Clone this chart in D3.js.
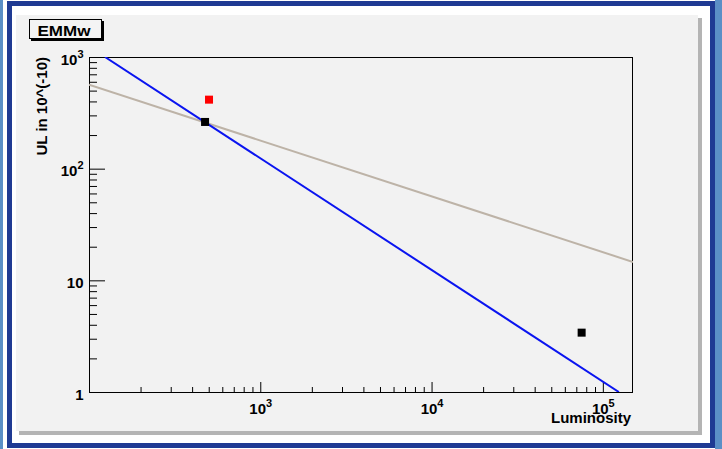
<!DOCTYPE html>
<html>
<head>
<meta charset="utf-8">
<script src="https://cdn.jsdelivr.net/npm/d3@7"></script>
<style>
  html, body { margin: 0; padding: 0; background: #ffffff; }
  svg { display: block; }
  text { font-family: "Liberation Sans", Arial, Helvetica, sans-serif; font-weight: bold; }
</style>
</head>
<body>
<svg id="chart" width="722" height="449"></svg>
<script>
// ---- data ----
const titleText = "EMMw";
const xTitle = "Luminosity";
const yTitle = "UL in 10^(-10)";
const xDomain = [100, 150000];
const yDomain = [1, 1000];
const xMajorTicks = [1000, 10000, 100000];
const xMajorExp = ["3", "4", "5"];
const xMinorTicks = [200, 300, 400, 500, 600, 700, 800, 900,
                     2000, 3000, 4000, 5000, 6000, 7000, 8000, 9000,
                     20000, 30000, 40000, 50000, 60000, 70000, 80000, 90000];
const yMajorTicks = [1, 10, 100, 1000];
const yMajorBase = ["1", "10", "10", "10"];
const yMajorExp = ["", "", "2", "3"];
const yMinorTicks = [2, 3, 4, 5, 6, 7, 8, 9,
                     20, 30, 40, 50, 60, 70, 80, 90,
                     200, 300, 400, 500, 600, 700, 800, 900];
const blackX = [476, 75200];
const blackY = [262, 3.4];
const redX = [502];
const redY = [415];
const blueLineX = [124, 124000];
const blueLineY = [1000, 1];
const greyLineX = [100, 150000];
const greyLineY = [565, 14.6];

// ---- drawing ----
const svg = d3.select("#chart");

// outer window decorations
svg.append("rect").attr("x", 0).attr("y", 0).attr("width", 3).attr("height", 449).attr("fill", "#5b8fc6");
svg.append("rect").attr("x", 715).attr("y", 0).attr("width", 7).attr("height", 449).attr("fill", "#5b8fc6");
svg.append("rect").attr("x", 9.5).attr("y", 3.5).attr("width", 703).attr("height", 442)
  .attr("fill", "#ffffff").attr("stroke", "#1f3a93").attr("stroke-width", 5);

// pad with shadow
svg.append("rect").attr("x", 19).attr("y", 18).attr("width", 683).attr("height", 417).attr("fill", "#b4b4b4");
svg.append("rect").attr("x", 16).attr("y", 15).attr("width", 682).attr("height", 416).attr("fill", "#f2f2f2");

const L = 89, R = 633, T = 57, B = 392;
const x = d3.scaleLog().domain(xDomain).range([L, R]);
const y = d3.scaleLog().domain(yDomain).range([B, T]);

// clip
svg.append("defs").append("clipPath").attr("id", "frameClip")
  .append("rect").attr("x", L).attr("y", T).attr("width", R - L).attr("height", B - T);

// axes ticks
function styleAxis(g) {
  g.select(".domain").remove();
  g.selectAll(".tick line").attr("stroke", "#000").attr("stroke-width", 1);
}
svg.append("g").attr("transform", `translate(0,${B})`)
  .call(d3.axisBottom(x).tickValues(xMinorTicks).tickSize(-5).tickSizeOuter(0).tickFormat(""))
  .call(styleAxis);
const xMaj = svg.append("g").attr("transform", `translate(0,${B})`)
  .call(d3.axisBottom(x).tickValues(xMajorTicks).tickSize(-10).tickSizeOuter(0).tickFormat(""))
  .call(styleAxis);
svg.append("g").attr("transform", `translate(${L},0)`)
  .call(d3.axisLeft(y).tickValues(yMinorTicks).tickSize(-8).tickSizeOuter(0).tickFormat(""))
  .call(styleAxis);
const yMaj = svg.append("g").attr("transform", `translate(${L},0)`)
  .call(d3.axisLeft(y).tickValues(yMajorTicks).tickSize(-16).tickSizeOuter(0).tickFormat(""))
  .call(styleAxis);

// x tick labels
xMaj.selectAll(".tick").each(function (d, i) {
  const t = d3.select(this).append("text")
    .attr("x", 0).attr("y", 22).attr("fill", "#000")
    .attr("font-size", 15).attr("text-anchor", "middle");
  t.append("tspan").text("10");
  t.append("tspan").attr("dy", -7).attr("font-size", 11).text(xMajorExp[i]);
});
xMaj.selectAll(".tick text").attr("dx", 0);

// y tick labels
yMaj.selectAll(".tick").each(function (d, i) {
  const t = d3.select(this).append("text")
    .attr("x", -5.5).attr("y", 7).attr("fill", "#000")
    .attr("font-size", 15).attr("text-anchor", "end");
  t.append("tspan").text(yMajorBase[i]);
  if (yMajorExp[i]) t.append("tspan").attr("dy", -7).attr("font-size", 11).text(yMajorExp[i]);
});

// frame
svg.append("rect").attr("x", L + 0.5).attr("y", T + 0.5).attr("width", R - L - 1).attr("height", B - T)
  .attr("fill", "none").attr("stroke", "#000").attr("stroke-width", 1);

// lines
const lineGen = d3.line().x(d => x(d[0])).y(d => y(d[1]));
const plot = svg.append("g").attr("clip-path", "url(#frameClip)");
plot.append("path").datum(d3.zip(greyLineX, greyLineY))
  .attr("d", lineGen).attr("fill", "none").attr("stroke", "#bdb3a7").attr("stroke-width", 2);
plot.append("path").datum(d3.zip(blueLineX, blueLineY))
  .attr("d", lineGen).attr("fill", "none").attr("stroke", "#0a14f0").attr("stroke-width", 2);

// markers
const ms = 8;
plot.selectAll(".black").data(d3.zip(blackX, blackY)).enter().append("rect")
  .attr("x", d => x(d[0]) - ms / 2).attr("y", d => y(d[1]) - ms / 2)
  .attr("width", ms).attr("height", ms).attr("fill", "#000");
plot.selectAll(".red").data(d3.zip(redX, redY)).enter().append("rect")
  .attr("x", d => x(d[0]) - ms / 2).attr("y", d => y(d[1]) - ms / 2)
  .attr("width", ms).attr("height", ms).attr("fill", "#ff0000");

// axis titles
svg.append("text").attr("x", 631).attr("y", 423).attr("text-anchor", "end")
  .attr("font-size", 15).attr("fill", "#000").text(xTitle);
svg.append("text").attr("transform", `translate(47,${T}) rotate(-90)`).attr("text-anchor", "end")
  .attr("font-size", 15).attr("fill", "#000").text(yTitle);

// title box
svg.append("rect").attr("x", 31).attr("y", 21).attr("width", 73).attr("height", 20).attr("fill", "#000");
svg.append("rect").attr("x", 29.5).attr("y", 19.5).attr("width", 72).attr("height", 19)
  .attr("fill", "#f4f4f4").attr("stroke", "#000").attr("stroke-width", 1);
svg.append("text").attr("x", 37.5).attr("y", 36).attr("font-size", 14)
  .attr("textLength", 53).attr("lengthAdjust", "spacingAndGlyphs")
  .attr("fill", "#000").text(titleText);
</script>
</body>
</html>
